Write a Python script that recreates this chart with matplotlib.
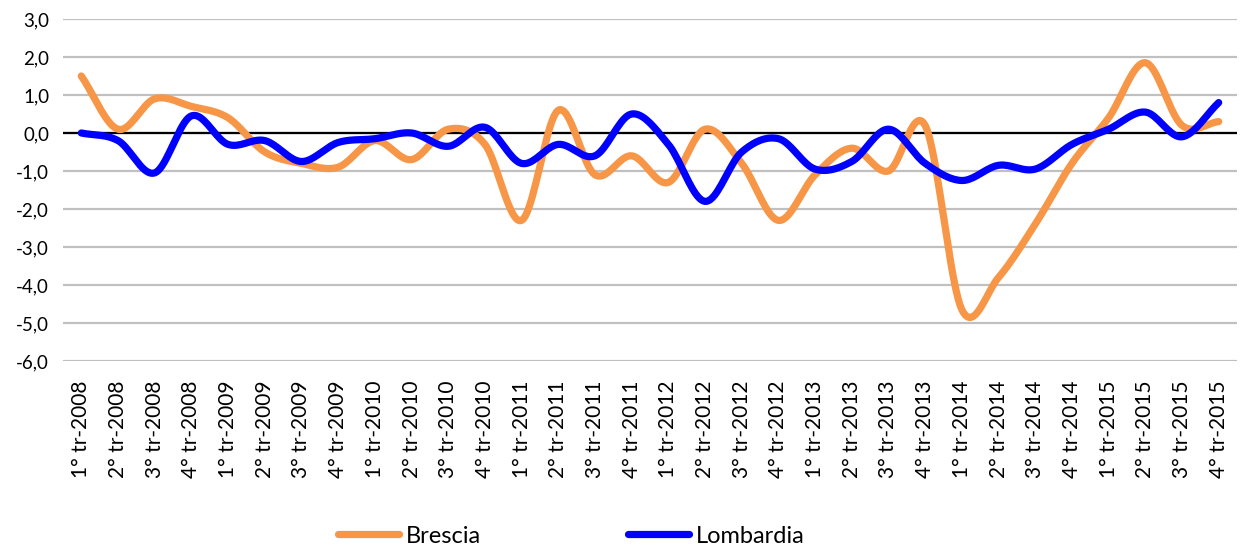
import numpy as np
import matplotlib.pyplot as plt

plt.rcParams['font.family'] = ['Lato', 'DejaVu Sans']

quarters = [f"{q}° tr-{y}" for y in range(2008, 2016) for q in (1, 2, 3, 4)]

brescia = [1.5, 0.1, 0.9, 0.7, 0.4, -0.5, -0.8, -0.9,
           -0.2, -0.7, 0.1, -0.3, -2.3, 0.6, -1.1, -0.6,
           -1.3, 0.1, -0.8, -2.3, -1.1, -0.4, -1.0, 0.2,
           -4.65, -3.8, -2.4, -0.8, 0.4, 1.85, 0.2, 0.3]

lombardia = [0.0, -0.2, -1.05, 0.45, -0.3, -0.2, -0.75, -0.25,
             -0.15, 0.0, -0.35, 0.15, -0.8, -0.3, -0.6, 0.5,
             -0.3, -1.8, -0.5, -0.15, -0.95, -0.75, 0.1, -0.8,
             -1.25, -0.85, -0.95, -0.3, 0.1, 0.55, -0.1, 0.8]


def smooth(y, n=20):
    # Catmull-Rom, like Excel's "smoothed line"
    y = np.asarray(y, dtype=float)
    p = np.concatenate([[2 * y[0] - y[1]], y, [2 * y[-1] - y[-2]]])
    xs, ys = [], []
    t = np.linspace(0, 1, n, endpoint=False)
    for i in range(len(y) - 1):
        p0, p1, p2, p3 = p[i], p[i + 1], p[i + 2], p[i + 3]
        c1 = p1 + (p2 - p0) / 6
        c2 = p2 - (p3 - p1) / 6
        b = ((1 - t) ** 3 * p1 + 3 * (1 - t) ** 2 * t * c1
             + 3 * (1 - t) * t ** 2 * c2 + t ** 3 * p2)
        xs.append(i + t)
        ys.append(b)
    xs.append([len(y) - 1])
    ys.append([y[-1]])
    return np.concatenate(xs), np.concatenate(ys)


fig = plt.figure(figsize=(12.42, 5.54), dpi=100)
ax = fig.add_axes([0.0507, 0.3484, 0.9453, 0.6173])

ax.set_ylim(-6, 3)
ax.set_xlim(-0.5, len(quarters) - 0.5)
ax.set_yticks(np.arange(-6, 4, 1))
ax.set_yticklabels([f"{v:.1f}".replace(".", ",") for v in np.arange(-6, 4, 1)],
                   fontsize=13.5)
ax.yaxis.grid(True, color="#c0c0c0", lw=1.6)
ax.set_axisbelow(True)
ax.axhline(0, color="black", lw=1.6, zorder=1)

ax.set_xticks(range(len(quarters)))
ax.set_xticklabels(quarters, rotation=90, fontsize=15)
ax.tick_params(axis="x", length=0, pad=14)
ax.tick_params(axis="y", length=0, pad=10)
for s in ax.spines.values():
    s.set_visible(False)

xb, yb = smooth(brescia)
xl, yl = smooth(lombardia)
ax.plot(xb, yb, color="#f79646", lw=5.2, solid_capstyle="round", label="Brescia", zorder=3)
ax.plot(xl, yl, color="#0000ff", lw=5.2, solid_capstyle="round", label="Lombardia", zorder=4)

fig.legend(loc="lower center", bbox_to_anchor=(0.46, -0.025), ncol=2, frameon=False,
           fontsize=17, handlelength=2.6, columnspacing=6.2, handletextpad=0.3)

fig.savefig("out.png", dpi=100)
